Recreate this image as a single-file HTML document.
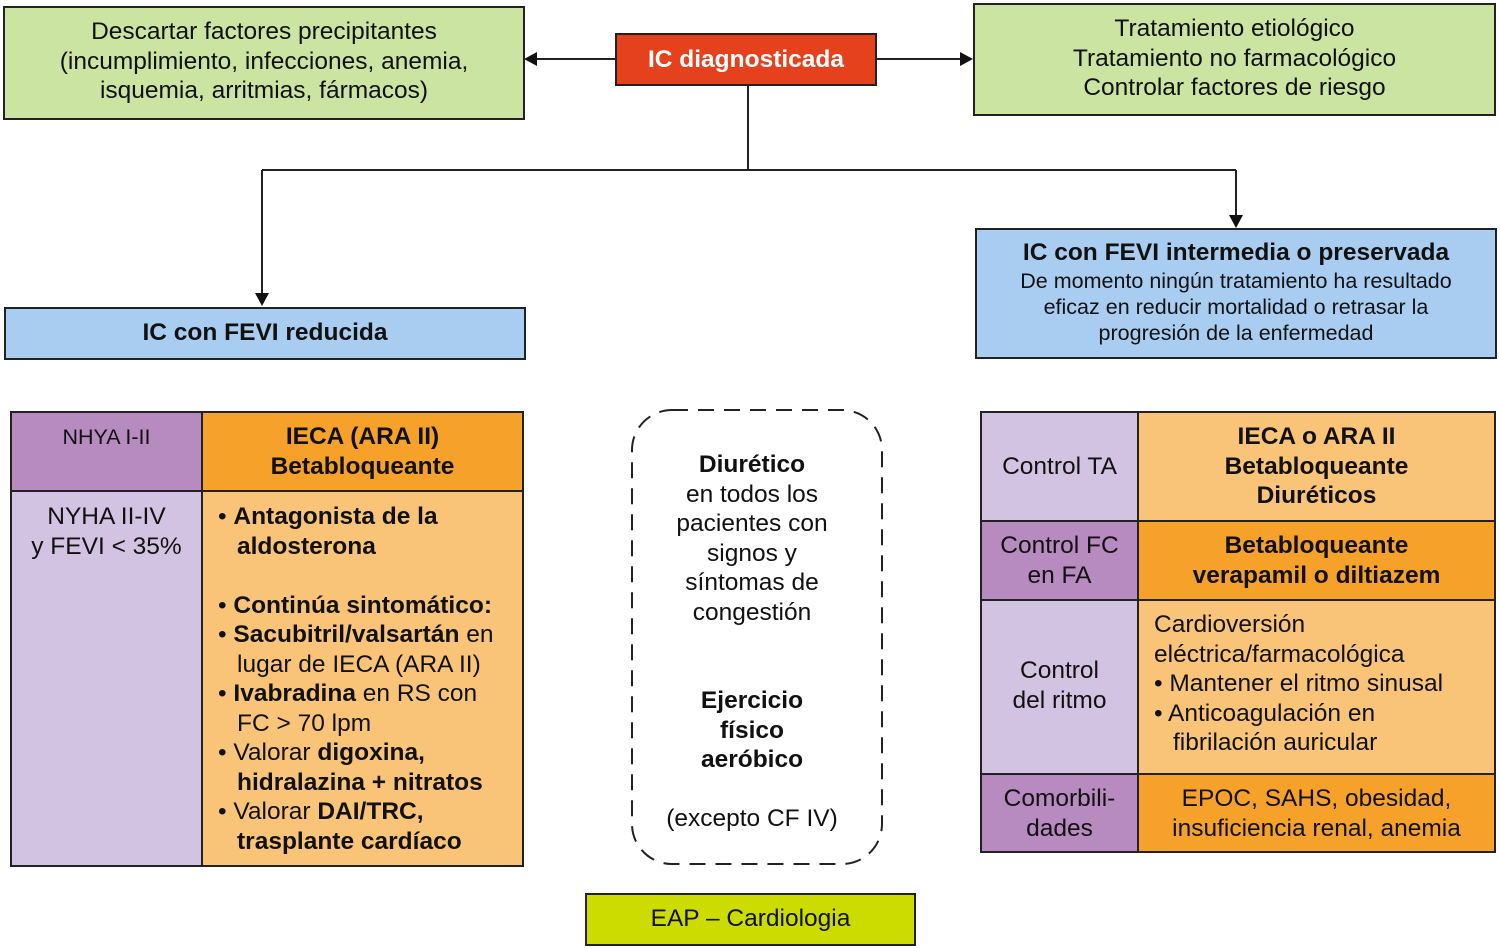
<!DOCTYPE html>
<html><head><meta charset="utf-8"><style>
body{margin:0;width:1500px;height:948px;background:#fff;position:relative;font-family:"Liberation Sans",sans-serif;color:#111;overflow:hidden}
.b{position:absolute;box-sizing:border-box;border:2px solid #222;text-align:center;font-size:24.5px;line-height:29.5px;white-space:nowrap}
.t{position:absolute;font-size:24.5px;line-height:29.5px;text-align:center;white-space:nowrap}
b{font-weight:bold}
ul{margin:0;padding:0;list-style:none}
li{padding-left:19px;text-indent:-19px}
</style></head><body>
<svg width="1500" height="948" style="position:absolute;left:0;top:0">
<g stroke="#222" stroke-width="2" fill="none">
<line x1="615" y1="59" x2="535" y2="59"/>
<line x1="877" y1="59" x2="962" y2="59"/>
<line x1="748" y1="85" x2="748" y2="170"/>
<line x1="262" y1="170" x2="1236" y2="170"/>
<line x1="262" y1="170" x2="262" y2="295"/>
<line x1="1236" y1="170" x2="1236" y2="217"/>
<rect x="632" y="410" width="250" height="454" rx="40" stroke-dasharray="16,10"/>
</g>
<g fill="#111">
<polygon points="524,59 537,52 537,66"/>
<polygon points="973,59 960,52 960,66"/>
<polygon points="262,306 255,293 269,293"/>
<polygon points="1236,228 1229,215 1243,215"/>
</g>
</svg>
<div class="b" style="left:3px;top:6px;width:522px;height:114px;background:#cce4a2;padding-top:9px">Descartar factores precipitantes<br>(incumplimiento, infecciones, anemia,<br>isquemia, arritmias, fármacos)</div>
<div class="b" style="left:615px;top:33px;width:262px;height:53px;background:#e5411d;color:#fff;font-weight:bold;padding-top:10px;font-size:24.5px">IC diagnosticada</div>
<div class="b" style="left:973px;top:3px;width:523px;height:113px;background:#cce4a2;padding-top:9px">Tratamiento etiológico<br>Tratamiento no farmacológico<br>Controlar factores de riesgo</div>
<div class="b" style="left:4px;top:307px;width:522px;height:53px;background:#a8cdf0;font-weight:bold;padding-top:9px">IC con FEVI reducida</div>
<div class="b" style="left:975px;top:228px;width:522px;height:131px;background:#a8cdf0;padding-top:8px"><b>IC con FEVI intermedia o preservada</b><div style="font-size:21.5px;line-height:26px">De momento ningún tratamiento ha resultado<br>eficaz en reducir mortalidad o retrasar la<br>progresión de la enfermedad</div></div>

<div class="b" style="left:10px;top:411px;width:193px;height:81px;background:#b78ac0;font-size:21.5px;padding-top:10px">NHYA I-II</div>
<div class="b" style="left:201px;top:411px;width:323px;height:81px;background:#f5a12a;font-weight:bold;padding-top:9px">IECA (ARA II)<br>Betabloqueante</div>
<div class="b" style="left:10px;top:490px;width:193px;height:377px;background:#d3c3e2;padding-top:10px">NYHA II-IV<br>y FEVI &lt; 35%</div>
<div class="b" style="left:201px;top:490px;width:323px;height:377px;background:#f9c477;text-align:left;padding:10px 0 0 15px">
<ul><li>• <b>Antagonista de la<br>aldosterona</b></li><li>&nbsp;</li><li>• <b>Continúa sintomático:</b></li><li>• <b>Sacubitril/valsartán</b> en<br>lugar de IECA (ARA II)</li><li>• <b>Ivabradina</b> en RS con<br>FC &gt; 70 lpm</li><li>• Valorar <b>digoxina,<br>hidralazina + nitratos</b></li><li>• Valorar <b>DAI/TRC,<br>trasplante cardíaco</b></li></ul></div>

<div class="t" style="left:627px;top:450px;width:250px"><b>Diurético</b><br>en todos los<br>pacientes con<br>signos y<br>síntomas de<br>congestión</div>
<div class="t" style="left:627px;top:686px;width:250px"><b>Ejercicio<br>físico<br>aeróbico</b><br><br>(excepto CF IV)</div>
<div class="b" style="left:585px;top:893px;width:331px;height:53px;background:#cddc00;padding-top:9px">EAP – Cardiologia</div>

<div class="b" style="left:980px;top:411px;width:159px;height:111px;background:#d3c3e2;padding-top:39px">Control TA</div>
<div class="b" style="left:1137px;top:411px;width:359px;height:111px;background:#f9c477;font-weight:bold;padding-top:9px">IECA o ARA II<br>Betabloqueante<br>Diuréticos</div>
<div class="b" style="left:980px;top:520px;width:159px;height:81px;background:#b78ac0;padding-top:9px">Control FC<br>en FA</div>
<div class="b" style="left:1137px;top:520px;width:359px;height:81px;background:#f5a12a;font-weight:bold;padding-top:9px">Betabloqueante<br>verapamil o diltiazem</div>
<div class="b" style="left:980px;top:599px;width:159px;height:176px;background:#d3c3e2;padding-top:55px">Control<br>del ritmo</div>
<div class="b" style="left:1137px;top:599px;width:359px;height:176px;background:#f9c477;text-align:left;padding:9px 0 0 15px">Cardioversión<br>eléctrica/farmacológica<ul><li>• Mantener el ritmo sinusal</li><li>• Anticoagulación en<br>fibrilación auricular</li></ul></div>
<div class="b" style="left:980px;top:773px;width:159px;height:80px;background:#b78ac0;padding-top:9px">Comorbili-<br>dades</div>
<div class="b" style="left:1137px;top:773px;width:359px;height:80px;background:#f5a12a;padding-top:9px">EPOC, SAHS, obesidad,<br>insuficiencia renal, anemia</div>
</body></html>
